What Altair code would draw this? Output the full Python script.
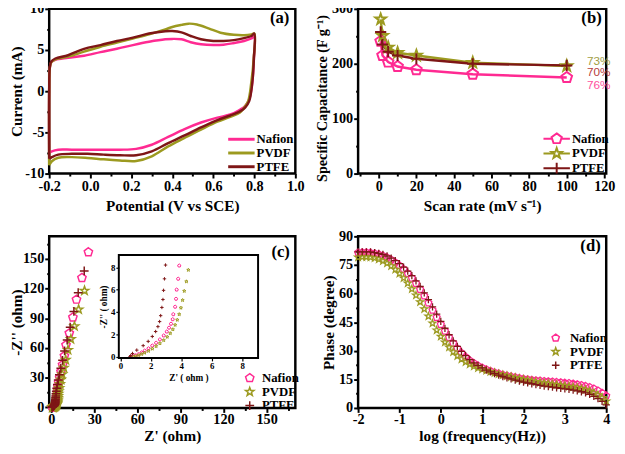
import altair as alt
import pandas as pd

FONT = "Liberation Serif"
SERIES = ["Nafion", "PVDF", "PTFE"]
COLORS = ["#FF2A92", "#9C9A20", "#7E1616"]
PENTAGON = "M0,-1L0.951,-0.309L0.588,0.809L-0.588,0.809L-0.951,-0.309Z"
STAR = ("M0,-1L0.235,-0.324L0.951,-0.309L0.380,0.124L0.588,0.809L0,0.4"
        "L-0.588,0.809L-0.380,0.124L-0.951,-0.309L-0.235,-0.324Z")
PLUS = "M-1,0L1,0M0,-1L0,1"
SHAPES = [PENTAGON, STAR, PLUS]
# legend symbols: marker with a line segment through it
LEG_LINE = "M-2.45,0L2.45,0"
LEG_SHAPES = [PENTAGON + "M-2.45,0L-0.85,0M0.85,0L2.45,0",
              STAR + "M-2.45,0L-0.54,0M0.54,0L2.45,0",
              "M-2.45,0L2.45,0M0,-1L0,1"]

# ---------------- (a) cyclic voltammetry ----------------
CV_V_NAFION = [-0.2, -0.2, -0.197, -0.19, -0.17, -0.108, -0.03, 0.05, 0.13, 0.208, 0.287, 0.366, 0.40, 0.445,
               0.49, 0.54, 0.60, 0.65, 0.70, 0.75, 0.786, 0.80, 0.798, 0.79, 0.775, 0.755, 0.73, 0.683, 0.62,
               0.54, 0.46, 0.38, 0.30, 0.224, 0.145, 0.066, -0.013, -0.09, -0.156, -0.187, -0.2]
CV_I_NAFION = [-7.5, 0.0, 2.8, 3.5, 3.8, 4.05, 4.3, 4.75, 5.15, 5.6, 6.0, 6.3, 6.35, 6.3, 5.95, 5.7, 5.6, 5.65,
               5.85, 6.1, 6.4, 6.6, 4.0, 1.0, -1.0, -1.8, -2.25, -2.83, -3.2, -3.8, -4.6, -5.55, -6.5, -7.0,
               -7.1, -7.1, -7.1, -7.1, -7.1, -7.3, -7.5]
CV_V_PVDF = [-0.2, -0.2, -0.197, -0.19, -0.17, -0.108, -0.03, 0.05, 0.13, 0.208, 0.287, 0.366, 0.40, 0.445,
             0.48, 0.52, 0.58, 0.635, 0.70, 0.75, 0.786, 0.80, 0.797, 0.785, 0.77, 0.75, 0.73, 0.683, 0.62,
             0.54, 0.46, 0.38, 0.30, 0.224, 0.145, 0.066, -0.013, -0.09, -0.156, -0.187, -0.2]
CV_I_PVDF = [-9.0, 0.0, 2.8, 3.5, 3.85, 4.2, 4.8, 5.4, 5.9, 6.4, 6.9, 7.5, 7.8, 8.05, 8.2, 8.1, 7.6, 7.1,
             6.85, 6.8, 6.9, 7.0, 4.0, 1.0, -1.2, -2.0, -2.6, -3.1, -3.7, -4.66, -5.67, -6.7, -7.9, -8.47,
             -8.4, -8.27, -8.1, -8.0, -8.08, -8.5, -9.0]
CV_V_PTFE = [-0.2, -0.2, -0.197, -0.19, -0.17, -0.108, -0.03, 0.05, 0.13, 0.208, 0.287, 0.366, 0.40, 0.445,
             0.49, 0.54, 0.60, 0.65, 0.70, 0.75, 0.786, 0.80, 0.798, 0.79, 0.775, 0.755, 0.73, 0.683, 0.62,
             0.54, 0.46, 0.38, 0.30, 0.224, 0.145, 0.066, -0.013, -0.09, -0.156, -0.187, -0.2]
CV_I_PTFE = [-8.2, 0.0, 2.9, 3.6, 3.97, 4.37, 5.14, 5.6, 6.1, 6.5, 7.0, 7.28, 7.3, 7.15, 6.7, 6.3, 6.1, 6.1,
             6.2, 6.45, 6.7, 7.0, 4.0, 1.0, -1.2, -2.0, -2.45, -2.95, -3.5, -4.4, -5.36, -6.3, -7.3, -7.77,
             -7.77, -7.7, -7.6, -7.6, -7.7, -8.0, -8.2]
A_XDOM = [-0.2, 1.0]
A_YDOM = [-10, 10]
A_XTICKS = [-0.2, -0.1, 0.0, 0.1, 0.2, 0.3, 0.4, 0.5, 0.6, 0.7, 0.8, 0.9, 1.0]
A_YTICKS = [-10, -7.5, -5, -2.5, 0, 2.5, 5, 7.5, 10]

# ---------------- (b) specific capacitance ----------------
B_RATE = [1, 2, 5, 10, 20, 50, 100]
B_NAFION = [241, 215, 203, 195, 189, 181, 175]
B_PVDF = [281, 251, 230, 220, 215, 202, 196]
B_PTFE = [258, 235, 222, 215, 209, 200, 197]
B_PCT_TEXT = ["73%", "70%", "76%"]
B_PCT_RATE = [117, 117, 117]
B_PCT_CAP = [204, 185, 162]
B_PCT_COLORS = ["#A29E45", "#B63C3C", "#FF4FA0"]
B_XDOM = [-11, 121]
B_YDOM = [0, 300]
B_XTICKS = [-10, 0, 10, 20, 30, 40, 50, 60, 70, 80, 90, 100, 110, 120]
B_YTICKS = [0, 50, 100, 150, 200, 250, 300]

# ---------------- (c) Nyquist ----------------
C_NAF_ZR = [25.9, 21.4, 17.6, 15.1, 12.6, 10.3, 9.2, 7.9, 6.8, 5.9, 5.2, 4.7, 4.4, 4.2, 4.05, 3.95, 3.87, 3.8,
            3.7, 3.66, 3.6, 3.48, 3.44, 3.33, 3.2, 3.05, 2.85, 2.6, 2.35, 2.1, 1.85, 1.6, 1.4, 1.2, 1.0, 0.85, 0.72]
C_NAF_ZI = [157, 131, 109, 91, 75, 63, 52, 43, 36, 30, 25, 21, 17.5, 14.6, 12.2, 10.2, 8.15, 6.97, 6.0, 5.18,
            4.47, 3.8, 3.35, 2.95, 2.6, 2.25, 1.9, 1.55, 1.25, 1.0, 0.75, 0.55, 0.38, 0.24, 0.13, 0.05, 0.0]
C_PVDF_ZR = [23.2, 19.1, 16.2, 13.7, 11.7, 10.1, 8.8, 7.7, 6.8, 6.1, 5.6, 5.2, 4.95, 4.75, 4.6, 4.47, 4.34, 4.2,
             4.09, 3.98, 3.87, 3.74, 3.6, 3.45, 3.28, 3.08, 2.85, 2.6, 2.35, 2.1, 1.85, 1.6, 1.4, 1.2, 1.0, 0.85]
C_PVDF_ZI = [118, 99, 82, 69, 58, 48, 40, 33.5, 28, 23.5, 19.5, 16.3, 13.6, 11.3, 9.4, 7.76, 6.73, 5.88, 5.06,
             4.38, 3.8, 3.3, 2.85, 2.45, 2.1, 1.78, 1.48, 1.2, 0.95, 0.72, 0.52, 0.36, 0.24, 0.14, 0.06, 0.0]
C_PTFE_ZR = [23.0, 18.8, 15.8, 13.2, 11.1, 9.3, 7.9, 6.7, 5.7, 4.9, 4.3, 3.9, 3.55, 3.3, 3.15, 3.05, 2.97, 2.9,
             2.84, 2.8, 2.73, 2.65, 2.58, 2.47, 2.32, 2.1, 1.83, 1.5, 1.08, 0.8, 0.68, 0.62]
C_PTFE_ZI = [138, 116, 97, 81, 68, 57, 47.5, 39.5, 33, 27.5, 23, 19.3, 16.2, 13.6, 11.5, 9.7, 8.2, 6.97, 5.94,
             5.12, 4.41, 3.68, 3.15, 2.7, 2.26, 1.82, 1.38, 1.0, 0.6, 0.3, 0.1, 0.0]
C_XDOM = [-1.4, 170]
C_YDOM = [-0.7, 173]
C_TICKS = [0, 15, 30, 45, 60, 75, 90, 105, 120, 135, 150, 165]
IN_XDOM = [-0.1, 9.05]
IN_YDOM = [-0.1, 9.1]
IN_TICKS = [0, 1, 2, 3, 4, 5, 6, 7, 8, 9]

# ---------------- (d) Bode phase ----------------
LOG_F = [-2.0, -1.9, -1.8, -1.7, -1.6, -1.5, -1.4, -1.3, -1.2, -1.1, -1.0, -0.9, -0.8, -0.7, -0.6, -0.5, -0.4,
         -0.3, -0.2, -0.1, 0.0, 0.1, 0.2, 0.3, 0.4, 0.5, 0.6, 0.7, 0.8, 0.9, 1.0, 1.1, 1.2, 1.3, 1.4, 1.5, 1.6,
         1.7, 1.8, 1.9, 2.0, 2.1, 2.2, 2.3, 2.4, 2.5, 2.6, 2.7, 2.8, 2.9, 3.0, 3.1, 3.2, 3.3, 3.4, 3.5, 3.6,
         3.7, 3.8, 3.9, 4.0]
D_NAFION = [81.5, 81.6, 81.6, 81.4, 81.1, 80.6, 79.9, 79.0, 77.8, 76.4, 74.7, 72.8, 70.6, 68.1, 65.3, 62.2,
            58.8, 55.1, 51.3, 47.5, 43.8, 40.3, 37.0, 34.0, 31.3, 28.9, 26.8, 25.0, 23.5, 22.2, 21.1, 20.2,
            19.4, 18.7, 18.1, 17.5, 17.0, 16.5, 16.1, 15.7, 15.3, 15.0, 14.7, 14.5, 14.3, 14.1, 13.9, 13.8,
            13.6, 13.4, 13.2, 13.0, 12.7, 12.4, 12.0, 11.5, 10.9, 10.1, 9.1, 7.9, 6.4]
D_PVDF = [79.0, 79.2, 79.2, 79.0, 78.6, 78.0, 77.1, 75.9, 74.4, 72.6, 70.5, 68.1, 65.4, 62.4, 59.1, 55.6,
          51.9, 48.1, 44.4, 40.8, 37.5, 34.5, 31.8, 29.4, 27.3, 25.6, 24.1, 22.9, 21.9, 21.0, 20.3, 19.6,
          19.0, 18.4, 17.8, 17.3, 16.8, 16.3, 15.8, 15.3, 14.9, 14.5, 14.1, 13.7, 13.4, 13.1, 12.8, 12.5,
          12.2, 11.9, 11.6, 11.3, 11.0, 10.6, 10.1, 9.5, 8.8, 7.9, 6.8, 5.4, 3.6]
D_PTFE = [81.8, 81.9, 81.9, 81.8, 81.5, 81.1, 80.5, 79.7, 78.6, 77.3, 75.7, 73.9, 71.8, 69.4, 66.7, 63.7,
          60.4, 56.8, 53.0, 49.2, 45.4, 41.8, 38.4, 35.2, 32.3, 29.7, 27.4, 25.4, 23.7, 22.3, 21.0, 19.9,
          18.9, 18.0, 17.2, 16.5, 15.8, 15.2, 14.6, 14.1, 13.6, 13.1, 12.7, 12.3, 11.9, 11.5, 11.2, 10.9,
          10.6, 10.3, 10.0, 9.7, 9.4, 9.0, 8.5, 7.9, 7.1, 6.1, 4.9, 3.4, 1.6]
D_XDOM = [-2, 4]
D_YDOM = [0, 90]
D_XTICKS = [-2, -1.5, -1, -0.5, 0, 0.5, 1, 1.5, 2, 2.5, 3, 3.5, 4]
D_YTICKS = [0, 7.5, 15, 22.5, 30, 37.5, 45, 52.5, 60, 67.5, 75, 82.5, 90]

PANEL_LABELS = ["(a)", "(b)", "(c)", "(d)"]

# ---------------- layout ----------------
W_L, W_R = 251, 253
H_T, H_B = 168, 175

LEG = dict(orient="none", title=None, labelFont=FONT, labelFontWeight="bold", labelFontSize=13,
           labelColor="black", padding=0)


def ax(values, test, title, fmt="d", major=4.5, minor=2.5, **kw):
    props = dict(values=values, title=title, format=fmt,
                 labelExpr="(" + test + ") ? replace(datum.label, '\u2212', '-') : ''",
                 tickSize={"condition": {"test": test, "value": major}, "value": minor},
                 labelOverlap=False, labelFlush=False)
    props.update(kw)
    return alt.Axis(**props)


def panel_label(text, x, y):
    return alt.Chart(pd.DataFrame({"t": [text]})).mark_text(
        font=FONT, fontWeight="bold", fontSize=17, align="center", baseline="middle", color="black"
    ).encode(text="t:N", x=alt.value(x), y=alt.value(y))


def qscale(dom, **kw):
    return alt.Scale(domain=dom, nice=False, zero=False, **kw)


color_scale = alt.Scale(domain=SERIES, range=COLORS)
shape_scale = alt.Scale(domain=SERIES, range=SHAPES)

# (a)
cv_rows = []
for name, vs, cs in zip(SERIES, [CV_V_NAFION, CV_V_PVDF, CV_V_PTFE], [CV_I_NAFION, CV_I_PVDF, CV_I_PTFE]):
    for k, (v, c) in enumerate(zip(vs, cs)):
        cv_rows.append({"series": name, "V": v, "I": c, "k": k})
cv_df = pd.DataFrame(cv_rows)

a_lines = alt.Chart(cv_df).mark_line(strokeWidth=2.5, interpolate="catmull-rom").encode(
    x=alt.X("V:Q", scale=qscale(A_XDOM),
            axis=ax(A_XTICKS, "abs(round(datum.value*10)) % 2 == 0", "Potential (V vs SCE)", fmt=".1f",
                    labelPadding=2, titlePadding=6)),
    y=alt.Y("I:Q", scale=qscale(A_YDOM),
            axis=ax(A_YTICKS, "datum.value % 5 == 0", "Current (mA)", labelPadding=1, titlePadding=0.5)),
    color=alt.Color("series:N", scale=color_scale,
                    legend=alt.Legend(symbolType=LEG_LINE, symbolSize=121, symbolStrokeWidth=3,
                                      legendX=189, legendY=126, labelOffset=8.5, rowPadding=-1, **LEG)),
    order=alt.Order("k:Q"),
)
A = alt.layer(a_lines, panel_label(PANEL_LABELS[0], W_L - 16, 9)).properties(width=W_L, height=H_T)

# (b)
b_rows = []
for name, vals in zip(SERIES, [B_NAFION, B_PVDF, B_PTFE]):
    for r, v in zip(B_RATE, vals):
        b_rows.append({"series": name, "rate": r, "cap": v})
b_df = pd.DataFrame(b_rows)
b_x = alt.X("rate:Q", scale=qscale(B_XDOM),
            axis=ax(B_XTICKS, "datum.value % 20 == 0", "Scan rate (mV s\u207b\u00b9)", labelPadding=2,
                    titlePadding=6))
b_y = alt.Y("cap:Q", scale=qscale(B_YDOM),
            axis=ax(B_YTICKS, "datum.value % 100 == 0", "Specific Capacitance (F g\u207b\u00b9)",
                    labelPadding=1, titlePadding=2, titleFontSize=14.5, titleY=H_T / 2 + 7))
b_line = alt.Chart(b_df).mark_line(strokeWidth=2.5).encode(
    x=b_x, y=b_y,
    color=alt.Color("series:N", scale=color_scale, legend=None),
)
b_pts = alt.Chart(b_df).mark_point(filled=False, size=130, strokeWidth=2, opacity=1).encode(
    x=b_x, y=b_y,
    color=alt.Color("series:N", scale=color_scale, legend=None),
    shape=alt.Shape("series:N", scale=shape_scale, legend=None),
)
# legend-only layer (no rows): its symbols are the marker with the connecting line
b_leg = alt.Legend(legendX=196, legendY=126, symbolSize=121, symbolStrokeWidth=2, labelOffset=9,
                   rowPadding=-4, **LEG)
b_legend_layer = alt.Chart(b_df).transform_filter("false").mark_point(
    filled=False, size=121, strokeWidth=2, opacity=1
).encode(
    color=alt.Color("series:N", scale=alt.Scale(domain=SERIES, range=COLORS), legend=b_leg),
    shape=alt.Shape("series:N", scale=alt.Scale(domain=SERIES, range=LEG_SHAPES), legend=b_leg),
)
b_texts = []
for t, r, c, col in zip(B_PCT_TEXT, B_PCT_RATE, B_PCT_CAP, B_PCT_COLORS):
    b_texts.append(
        alt.Chart(pd.DataFrame({"rate": [r], "cap": [c], "t": [t]})).mark_text(
            font="Liberation Sans", fontSize=12, color=col, align="center", baseline="middle"
        ).encode(x=b_x, y=b_y, text="t:N")
    )
B = alt.layer(b_line, b_pts, *b_texts, panel_label(PANEL_LABELS[1], W_R - 15, 9),
              b_legend_layer).resolve_scale(color="independent", shape="independent").properties(
    width=W_R, height=H_T)

# (c)
c_rows = []
for name, zr, zi in zip(SERIES, [C_NAF_ZR, C_PVDF_ZR, C_PTFE_ZR], [C_NAF_ZI, C_PVDF_ZI, C_PTFE_ZI]):
    for a, b in zip(zr, zi):
        c_rows.append({"series": name, "zr": a, "zi": b})
c_df = pd.DataFrame(c_rows)
c_leg = alt.Legend(legendX=198, legendY=138, symbolSize=80, symbolStrokeWidth=1.5, labelOffset=6,
                   rowPadding=-6, **LEG)
c_main = alt.Chart(c_df).mark_point(filled=False, size=80, strokeWidth=1.5, opacity=1).encode(
    x=alt.X("zr:Q", scale=qscale(C_XDOM),
            axis=ax(C_TICKS, "datum.value % 30 == 0", "Z' (ohm)", labelPadding=0, titlePadding=3)),
    y=alt.Y("zi:Q", scale=qscale(C_YDOM),
            axis=ax(C_TICKS, "datum.value % 30 == 0", "-Z'' (ohm)", labelPadding=1, titlePadding=-2)),
    color=alt.Color("series:N", scale=color_scale, legend=c_leg),
    shape=alt.Shape("series:N", scale=shape_scale, legend=c_leg),
)
in_x = qscale(IN_XDOM, range=[71, 213])
in_y = qscale(IN_YDOM, range=[124, 19])
in_axis_kw = dict(major=3, minor=1.5, labelFontSize=9, titleFontSize=9.5, tickWidth=1.2,
                  labelPadding=1, titlePadding=2)
in_pts = alt.Chart(c_df).transform_filter(
    f"datum.zr <= {IN_XDOM[1]} && datum.zi <= {IN_YDOM[1]}"
).mark_point(filled=False, size=12, strokeWidth=1, opacity=1).encode(
    x=alt.X("zr:Q", scale=in_x,
            axis=ax(IN_TICKS, "datum.value % 2 == 0", "Z' ( ohm )", orient="bottom",
                    offset=-(H_B - 124), **in_axis_kw)),
    y=alt.Y("zi:Q", scale=in_y,
            axis=ax(IN_TICKS, "datum.value % 2 == 0", "-Z'' ( ohm)", orient="left", offset=-71,
                    **in_axis_kw)),
    color=alt.Color("series:N", scale=color_scale, legend=c_leg),
    shape=alt.Shape("series:N", scale=shape_scale, legend=c_leg),
)
in_box = alt.Chart(pd.DataFrame({"d": [0]})).mark_rect(
    fillOpacity=0, stroke="black", strokeWidth=2
).encode(
    x=alt.datum(IN_XDOM[0], scale=in_x), x2=alt.datum(IN_XDOM[1]),
    y=alt.datum(IN_YDOM[0], scale=in_y), y2=alt.datum(IN_YDOM[1]),
)
inset = alt.layer(in_pts, in_box)
C = alt.layer(c_main, inset, panel_label(PANEL_LABELS[2], W_L - 15, 16)).resolve_scale(
    x="independent", y="independent").properties(width=W_L, height=H_B)

# (d)
d_rows = []
for name, vals in zip(SERIES, [D_NAFION, D_PVDF, D_PTFE]):
    for f, p in zip(LOG_F, vals):
        d_rows.append({"series": name, "logf": f, "phase": p})
d_df = pd.DataFrame(d_rows)
d_leg = alt.Legend(legendX=195, legendY=97, symbolSize=60, symbolStrokeWidth=1.5, labelOffset=8,
                   rowPadding=-3.5, **LEG)
d_pts = alt.Chart(d_df).mark_point(filled=False, size=55, strokeWidth=1.3, opacity=1).encode(
    x=alt.X("logf:Q", scale=qscale(D_XDOM),
            axis=ax(D_XTICKS, "datum.value % 1 == 0", "log (frequency(Hz))", labelPadding=0,
                    titlePadding=3)),
    y=alt.Y("phase:Q", scale=qscale(D_YDOM),
            axis=ax(D_YTICKS, "datum.value % 15 == 0", "Phase (degree)", labelPadding=1, titlePadding=2)),
    color=alt.Color("series:N", scale=color_scale, legend=d_leg),
    shape=alt.Shape("series:N", scale=shape_scale, legend=d_leg),
)
D = alt.layer(d_pts, panel_label(PANEL_LABELS[3], W_R - 16, 10)).properties(width=W_R, height=H_B)

chart = alt.concat(A, B, C, D, columns=2, spacing=64, bounds="flush", align="each").resolve_scale(
    color="independent", shape="independent"
).properties(
    padding={"left": 0, "top": -13.5, "right": 0, "bottom": 0}
).configure(font=FONT).configure_view(
    stroke="black", strokeWidth=2.5
).configure_axis(
    labelFont=FONT, labelFontWeight="bold", labelFontSize=14.5, labelColor="black",
    titleFont=FONT, titleFontWeight="bold", titleFontSize=15.5, titleColor="black",
    tickColor="black", tickWidth=2, domain=False, grid=False,
)

chart.save("out.html", embed_options={"renderer": "svg", "actions": False})
